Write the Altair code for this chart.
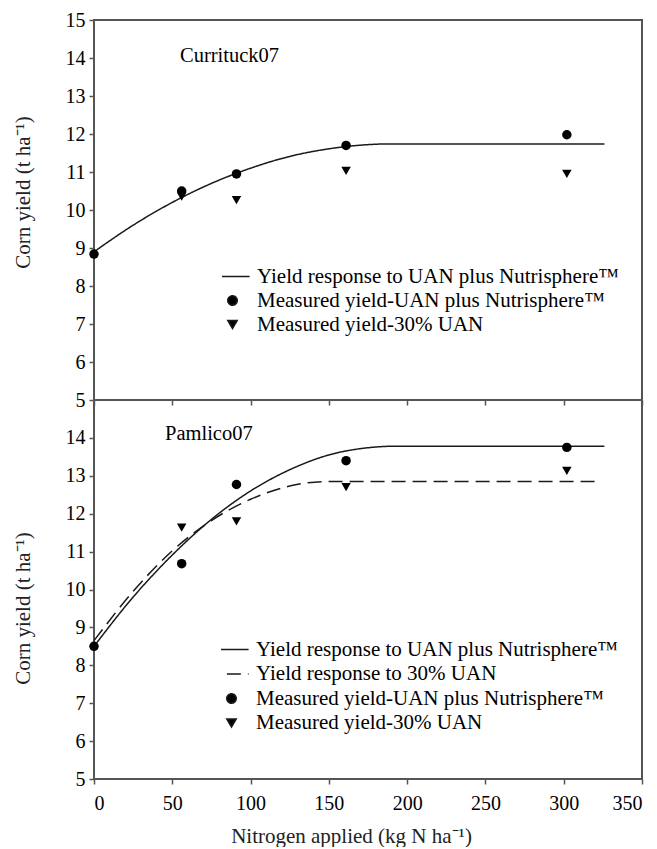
import altair as alt
import pandas as pd

# ---------------- data ----------------
S_FIT_NUTRI = "Yield response to UAN plus Nutrisphere™"
S_FIT_UAN30 = "Yield response to 30% UAN"
S_MEAS_NUTRI = "Measured yield-UAN plus Nutrisphere™"
S_MEAS_UAN30 = "Measured yield-30% UAN"

n_rates = [0, 56, 91, 161, 302]
n_rates_uan30 = [56, 91, 161, 302]

# Currituck07
curr_meas_nutri = [8.84, 10.50, 10.95, 11.70, 11.98]
curr_meas_uan30 = [10.35, 10.26, 11.03, 10.95]
curr_fit_x = [0, 25, 50, 75, 100, 125, 150, 175, 190, 326]
curr_fit_nutri = [8.90, 9.60, 10.20, 10.70, 11.10, 11.41, 11.61, 11.72, 11.74, 11.74]

# Pamlico07
pam_meas_nutri = [8.50, 10.68, 12.77, 13.40, 13.75]
pam_meas_uan30 = [11.63, 11.80, 12.70, 13.13]
pam_fit_nutri_x = [0, 25, 50, 75, 100, 125, 150, 175, 192, 326]
pam_fit_nutri = [8.50, 9.80, 10.91, 11.85, 12.60, 13.16, 13.55, 13.74, 13.78, 13.78]
pam_fit_uan30_x = [0, 25, 50, 75, 100, 125, 150, 321]
pam_fit_uan30 = [8.65, 9.95, 11.02, 11.82, 12.38, 12.73, 12.85, 12.85]

x_ticks = [0, 50, 100, 150, 200, 250, 300, 350]
top_y_ticks = [5, 6, 7, 8, 9, 10, 11, 12, 13, 14, 15]
bottom_y_ticks = [5, 6, 7, 8, 9, 10, 11, 12, 13, 14]

FONT = "Liberation Serif"
LINE_PATH = "M-5.4,0H3.6"


def frame(xs, ys, name):
    return pd.DataFrame({"x": xs, "y": ys, "series": name})


curr_lines = frame(curr_fit_x, curr_fit_nutri, S_FIT_NUTRI)
curr_pts = pd.concat([
    frame(n_rates, curr_meas_nutri, S_MEAS_NUTRI),
    frame(n_rates_uan30, curr_meas_uan30, S_MEAS_UAN30),
])
pam_lines = pd.concat([
    frame(pam_fit_nutri_x, pam_fit_nutri, S_FIT_NUTRI),
    frame(pam_fit_uan30_x, pam_fit_uan30, S_FIT_UAN30),
])
pam_pts = pd.concat([
    frame(n_rates, pam_meas_nutri, S_MEAS_NUTRI),
    frame(n_rates_uan30, pam_meas_uan30, S_MEAS_UAN30),
])

W, H_TOP, H_BOT = 548, 380, 379
YTITLE = "Corn yield (t ha⁻¹)"


def panel(lines_df, pts_df, domain, dashes, shapes, height, yvals, xaxis,
          site, site_dx, site_dy, ytitle_y, leg_x, leg_y, row_pad):
    n = len(domain)
    legend = alt.Legend(orient="none", legendX=leg_x, legendY=leg_y, title=None,
                        labelFont=FONT, labelFontSize=21, labelColor="black",
                        labelLimit=600, labelOffset=14, clipHeight=24, rowPadding=row_pad,
                        symbolSize=90, symbolStrokeWidth=1.5, padding=0)
    x = alt.X("x:Q", scale=alt.Scale(domain=[0, 350], nice=False, zero=False), axis=xaxis)
    y = alt.Y("y:Q", scale=alt.Scale(domain=[5, 15], nice=False, zero=False),
              axis=alt.Axis(values=yvals, title=YTITLE, titleX=-61, titleY=ytitle_y,
                            labelPadding=4))
    lines = alt.Chart(lines_df).mark_line(interpolate="monotone", strokeWidth=1.5).encode(
        x=x, y=y,
        stroke=alt.Stroke("series:N", scale=alt.Scale(domain=domain, range=["#1a1a1a"] * n),
                          legend=legend),
        strokeDash=alt.StrokeDash("series:N", scale=alt.Scale(domain=domain, range=dashes),
                                  legend=legend),
    )
    pts = alt.Chart(pts_df).mark_point(filled=True, size=90, opacity=1).encode(
        x=x, y=y,
        shape=alt.Shape("series:N", scale=alt.Scale(domain=domain, range=shapes), legend=legend),
        fill=alt.Fill("series:N", scale=alt.Scale(domain=domain, range=["black"] * n),
                      legend=legend),
    )
    return alt.layer(lines, pts).properties(
        width=W, height=height,
        title=alt.TitleParams(site, anchor="start", frame="group", orient="top", offset=0,
                              baseline="middle", dx=site_dx, dy=site_dy, font=FONT,
                              fontSize=20.5, fontWeight="normal", color="black"),
    )


top_xaxis = alt.Axis(values=x_ticks, labels=False, title=None)
bottom_xaxis = alt.Axis(values=x_ticks, title="Nitrogen applied (kg N ha⁻¹)",
                        labelPadding=9, titleX=257, titleY=46, titleBaseline="top")

top = panel(curr_lines, curr_pts,
            [S_FIT_NUTRI, S_MEAS_NUTRI, S_MEAS_UAN30],
            [[1, 0], [1, 0], [1, 0]],
            [LINE_PATH, "circle", "triangle-down"],
            H_TOP, top_y_ticks, top_xaxis,
            "Currituck07", 86, 66, 172, 128, 244.5, 0)

bottom = panel(pam_lines, pam_pts,
               [S_FIT_NUTRI, S_FIT_UAN30, S_MEAS_NUTRI, S_MEAS_UAN30],
               [[1, 0], [14, 7], [1, 0], [1, 0]],
               [LINE_PATH, LINE_PATH, "circle", "triangle-down"],
               H_BOT, bottom_y_ticks, bottom_xaxis,
               "Pamlico07", 71, 54, 208, 127, 237.5, 0.5)

chart = alt.vconcat(top, bottom, spacing=0, bounds="flush").resolve_scale(
    shape="independent", fill="independent", stroke="independent", strokeDash="independent",
    x="independent", y="independent",
).resolve_legend(
    shape="independent", fill="independent", stroke="independent", strokeDash="independent",
).properties(
    padding={"left": 3, "top": 1, "right": 0, "bottom": 0},
).configure_view(
    stroke="#555555", strokeWidth=2,
).configure_axis(
    grid=False, domain=False, ticks=True, tickSize=5, tickColor="#555555", tickWidth=1.5,
    labelFont=FONT, labelFontSize=20, labelColor="black",
    titleFont=FONT, titleFontSize=21, titleFontWeight="normal", titleColor="#222222",
)

chart.save("out.html", embed_options={"renderer": "svg", "actions": False})
